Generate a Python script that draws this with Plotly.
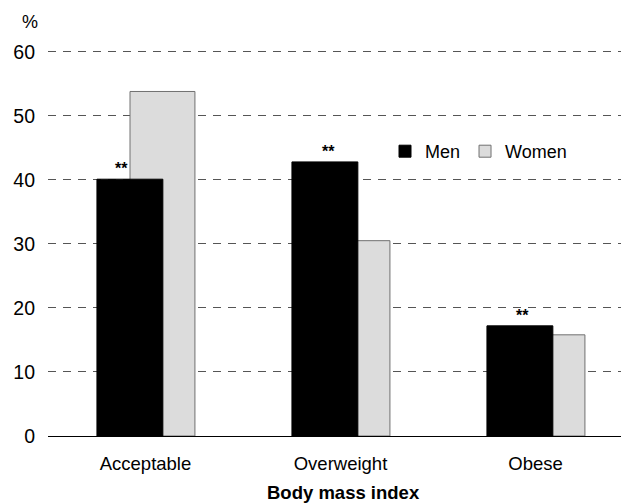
import plotly.graph_objects as go

# Share of adults in each body mass index group, by sex (%)
categories = ["Acceptable", "Overweight", "Obese"]
men = [40.1, 42.8, 17.2]
women = [53.8, 30.5, 15.8]
significance = ["**", "**", "**"]
star_shift_px = [-8, 4, 3]

FONT = "Liberation Sans, Arial, sans-serif"
W, H = 621, 504
L, R, T, B = 48, 0, 46, 68
plot_w = W - L - R
plot_h = H - T - B
band_px = 195.0
x_hi = -0.5 + plot_w / band_px
y_hi = 60.9  # headroom so the 60 gridline is drawn

men_w, men_off = 0.338, -0.249
wom_w, wom_off = 0.333, -0.0795

fig = go.Figure()
fig.add_trace(go.Bar(
    x=categories, y=women, name="Women",
    width=wom_w, offset=wom_off,
    marker=dict(color="#dcdcdc", line=dict(color="#707070", width=1)),
    legendrank=2,
))
fig.add_trace(go.Bar(
    x=categories, y=men, name="Men",
    width=men_w, offset=men_off,
    marker=dict(color="#000000", line=dict(color="#000000", width=1)),
    legendrank=1,
))

# significance markers above the men's bars
for cat, val, txt, dx in zip(categories, men, significance, star_shift_px):
    fig.add_annotation(
        x=cat, y=val, text=f"<b>{txt}</b>", showarrow=False,
        xshift=(men_off + men_w / 2) * band_px + dx,
        yanchor="bottom", yshift=0,
        font=dict(family=FONT, size=16, color="#000"),
    )

fig.add_annotation(
    xref="paper", yref="paper", x=-18 / plot_w, y=1 - (22.5 - T) / plot_h,
    text="%", showarrow=False, xanchor="center", yanchor="middle",
    font=dict(family=FONT, size=18, color="#000"),
)
fig.add_annotation(
    xref="paper", yref="paper", x=(343.5 - L) / plot_w, y=-(493 - (H - B)) / plot_h,
    text="<b>Body mass index</b>", showarrow=False, xanchor="center", yanchor="middle",
    font=dict(family=FONT, size=18.5, color="#000"),
)

fig.update_layout(
    width=W, height=H,
    margin=dict(l=L, r=R, t=T, b=B, pad=0),
    paper_bgcolor="white", plot_bgcolor="white",
    barmode="overlay",
    font=dict(family=FONT, size=18, color="#000"),
    showlegend=True,
    legend=dict(
        orientation="h", x=(385 - L) / plot_w, y=1 - (133 - T) / plot_h,
        xanchor="left", yanchor="top",
        bgcolor="rgba(0,0,0,0)", font=dict(family=FONT, size=18),
        itemwidth=30, tracegroupgap=0,
    ),
    xaxis=dict(
        range=[-0.5, x_hi], showgrid=False, zeroline=False,
        showline=True, linecolor="#000", linewidth=1,
        ticks="", tickfont=dict(family=FONT, size=18.5),
        ticklabelstandoff=11, fixedrange=True,
    ),
    yaxis=dict(
        range=[0, y_hi], tickvals=[0, 10, 20, 30, 40, 50, 60],
        showgrid=True, gridcolor="#555", gridwidth=1, griddash="8px,7px",
        zeroline=False, showline=False, ticks="",
        tickfont=dict(family=FONT, size=19.5), ticklabelstandoff=12,
        fixedrange=True,
    ),
)

fig.write_html("out.html")
